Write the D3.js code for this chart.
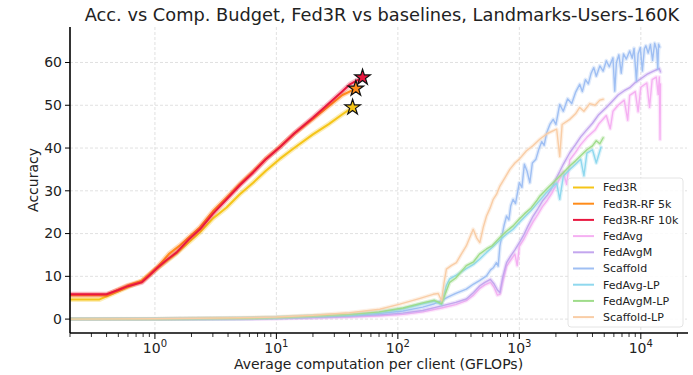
<!DOCTYPE html>
<html>
<head>
<meta charset="utf-8">
<script src="https://cdn.jsdelivr.net/npm/d3@7"></script>
<style>
  html, body { margin: 0; padding: 0; background: #fff; }
  svg { display: block; font-family: "DejaVu Sans", sans-serif; }
</style>
</head>
<body>
<svg id="chart" width="693" height="375"></svg>
<script>
// Accuracy vs average computation per client (GFLOPs), pairs of [gflops, accuracy]
const fed3r = [[0.2,4.6],[0.35,4.6],[0.5,6.5],[0.6,7.5],[0.78,8.9],[1.06,12.0],[1.51,15.4],[2.35,20.3],[3.0,23.5],[3.89,26.1],[5.0,29.2],[6.44,31.9],[8.2,34.7],[10.6,37.4],[14,40.0],[20,43.2],[27,45.6],[35,47.9],[42.4,49.5]];
const fed3rRF5k = [[0.2,5.6],[0.4,5.6],[0.5,6.9],[0.6,7.9],[0.78,8.9],[1.06,12.3],[1.3,15.2],[1.6,17.2],[2.35,21.5],[3.0,25.2],[3.89,28.4],[5,31.6],[6.44,34.5],[8.2,37.5],[10.6,40.2],[14,43.3],[20,46.8],[27,49.8],[35,52.4],[45.1,53.9]];
const fed3rRF10k = [[0.2,5.8],[0.4,5.8],[0.5,6.8],[0.6,7.7],[0.78,8.6],[0.9,10.2],[1.06,12.1],[1.25,13.8],[1.51,15.6],[1.9,18.6],[2.35,21.0],[3.0,24.6],[3.89,28.0],[5.0,31.3],[6.44,34.3],[8.2,37.4],[10.6,40.1],[14,43.4],[20,47.1],[27,50.4],[35,53.3],[40.3,54.9],[51.2,56.5]];
const fedAvg = [[0.2,0],[1,0.02],[5,0.08],[10,0.15],[20,0.3],[40,0.5],[70,0.8],[110,1.1],[160,1.7],[229,2.6],[300,3.4],[366,4.3],[420,5.6],[473,7.2],[520,8.0],[578,8.6],[620,7.4],[660,5.6],[692,5.8],[730,8.8],[785,12.4],[850,13.8],[920,15.2],[960,12.5],[1000,17.0],[1080,18.5],[1180,20.6],[1300,22.8],[1420,24.5],[1550,26.3],[1700,27.8],[1850,29.4],[2000,31.2],[2150,32.8],[2300,34.5],[2450,31.5],[2600,37.2],[2900,39.0],[3200,40.8],[3600,42.5],[4200,44.2],[4500,45.6],[5200,47.6],[5600,44.5],[5900,48.6],[6500,50.0],[7300,51.2],[7800,46.5],[8100,52.3],[9000,53.2],[9500,48.5],[10000,54.2],[11200,55.2],[11800,49.5],[12400,56.0],[13400,56.6],[13900,52.5],[14200,56.6],[14400,42.0],[14500,55.0]];
const fedAvgM = [[0.2,0],[1,0.03],[5,0.1],[10,0.2],[20,0.4],[40,0.7],[70,1.0],[110,1.4],[160,2.0],[229,3.1],[300,3.9],[366,4.7],[420,6.2],[473,7.8],[520,8.6],[578,9.3],[620,8.2],[660,6.8],[692,6.2],[730,9.8],[785,13.2],[850,14.8],[920,16.2],[1000,17.9],[1080,19.5],[1180,21.8],[1300,24.1],[1420,25.8],[1550,27.6],[1700,29.0],[1850,30.6],[2000,32.8],[2150,34.5],[2300,36.2],[2600,38.9],[2900,40.8],[3200,42.6],[3600,44.3],[4000,45.8],[4500,47.8],[5200,49.5],[5800,50.9],[6500,52.4],[7300,53.4],[8100,54.1],[9000,55.3],[10000,56.2],[11200,57.2],[12700,58.0],[14200,58.6],[14500,57.8]];
const scaffold = [[0.2,0],[1,0.05],[5,0.15],[10,0.3],[20,0.6],[40,0.9],[70,1.3],[110,1.9],[160,2.8],[200,3.6],[229,4.3],[260,5.2],[300,6.0],[366,7.0],[420,8.2],[470,9.0],[537,10.1],[580,11.5],[610,12.0],[648,13.2],[670,12.4],[692,17.1],[720,19.5],[750,22.0],[785,24.1],[820,23.2],[850,26.5],[889,28.0],[930,27.0],[1000,31.9],[1050,30.8],[1100,36.2],[1160,34.5],[1220,31.9],[1280,36.5],[1370,37.4],[1450,39.8],[1530,41.5],[1600,40.6],[1680,43.6],[1790,45.6],[1900,46.7],[2000,45.5],[2150,50.2],[2300,48.6],[2500,51.5],[2700,50.4],[2900,53.0],[3140,54.9],[3300,53.2],[3500,56.0],[3700,55.0],[3900,57.5],[4100,58.8],[4300,56.8],[4600,59.2],[4900,58.0],[5200,60.4],[5500,59.0],[5900,61.1],[6100,53.3],[6300,60.0],[6600,61.8],[6900,57.5],[7200,62.0],[7600,60.8],[8100,62.7],[8500,61.0],[8800,63.3],[9200,55.7],[9500,62.0],[9900,63.5],[10300,58.0],[10700,63.2],[11000,63.9],[11500,62.2],[12000,64.2],[12500,60.5],[13000,64.5],[13500,63.0],[13800,58.5],[14000,64.3],[14300,63.6]];
const fedAvgLP = [[0.2,0],[1,0.05],[5,0.2],[10,0.35],[20,0.7],[40,1.0],[70,1.6],[110,2.4],[160,3.6],[200,4.2],[229,3.4],[250,7.8],[267,9.4],[300,10.2],[366,11.8],[420,12.8],[470,14.0],[537,15.6],[600,16.8],[692,18.5],[780,19.8],[889,21.0],[1000,22.6],[1100,23.8],[1250,25.4],[1400,27.0],[1650,29.4],[1850,30.8],[2030,31.8],[2150,28.0],[2300,33.4],[2600,35.0],[2900,36.2],[3200,37.4],[3400,33.5],[3600,38.8],[4000,39.6],[4300,36.5],[4700,40.2]];
const fedAvgMLP = [[0.2,0],[1,0.05],[5,0.2],[10,0.35],[20,0.7],[40,1.1],[70,1.7],[110,2.6],[160,3.8],[200,4.4],[229,3.6],[250,6.5],[267,8.6],[300,9.6],[366,12.5],[420,13.4],[470,15.2],[537,16.4],[600,17.2],[692,19.1],[780,20.5],[889,21.8],[1000,23.4],[1100,24.6],[1250,26.0],[1400,27.8],[1480,28.8],[1650,30.2],[1850,31.6],[2030,32.7],[2300,34.2],[2600,35.8],[2900,37.0],[3200,38.2],[3600,39.6],[4000,40.5],[4300,41.7],[4600,41.0],[4900,42.4]];
const scaffoldLP = [[0.2,0],[1,0.08],[5,0.3],[10,0.5],[20,0.9],[40,1.5],[71,2.3],[104,3.5],[150,4.8],[195,5.8],[215,6.0],[229,4.3],[240,8.5],[251,11.7],[275,12.5],[303,13.2],[330,15.0],[366,17.1],[417,21.0],[445,19.0],[473,17.9],[505,21.5],[537,24.1],[575,26.0],[610,28.0],[650,29.2],[692,31.1],[760,33.0],[835,35.0],[920,36.5],[1000,37.4],[1140,39.3],[1300,40.6],[1480,42.1],[1700,43.4],[2030,44.4],[2150,38.0],[2250,45.5],[2600,46.7],[2900,48.0],[3140,49.5],[3400,48.6],[3800,50.4],[4200,50.0],[4600,51.2],[4900,51.4]];

const seriesNames = ["Fed3R","Fed3R-RF 5k","Fed3R-RF 10k","FedAvg","FedAvgM","Scaffold","FedAvg-LP","FedAvgM-LP","Scaffold-LP"];
const seriesData = [fed3r, fed3rRF5k, fed3rRF10k, fedAvg, fedAvgM, scaffold, fedAvgLP, fedAvgMLP, scaffoldLP];
const seriesColors = ["#f5c518","#ff8c1a","#e8173f","#f5b0f2","#c3a6ee","#9fbff3","#8fd8ee","#9fdc8a","#f9cda6"];
const yTicks = [0,10,20,30,40,50,60];
const xMajorTicks = [1,10,100,1000,10000];
const xTickExps = ["0","1","2","3","4"];
const titleText = "Acc. vs Comp. Budget, Fed3R vs baselines, Landmarks-Users-160K";

const svg = d3.select("#chart");
const pLeft = 70, pRight = 687, pTop = 27, pBottom = 333;

const x = d3.scaleLog().domain([0.2, 24000]).range([pLeft, pRight]);
const y = d3.scaleLinear().domain([-3.25, 68.3]).range([pBottom, pTop]);

// grid
const grid = svg.append("g");
grid.selectAll(".gx").data(xMajorTicks).enter().append("line")
  .attr("x1", d => x(d)).attr("x2", d => x(d)).attr("y1", pTop).attr("y2", pBottom)
  .attr("stroke", "#d9d9d9").attr("stroke-width", 0.8).attr("stroke-dasharray", "3,2");
grid.selectAll(".gy").data(yTicks).enter().append("line")
  .attr("x1", pLeft).attr("x2", pRight).attr("y1", d => y(d)).attr("y2", d => y(d))
  .attr("stroke", "#d9d9d9").attr("stroke-width", 0.8).attr("stroke-dasharray", "3,2");

const line = d3.line().x(d => x(d[0])).y(d => y(d[1]));
svg.append("clipPath").attr("id", "clip").append("rect")
  .attr("x", pLeft).attr("y", pTop - 10).attr("width", pRight - pLeft).attr("height", pBottom - pTop + 10);
const plot = svg.append("g").attr("clip-path", "url(#clip)");

seriesData.forEach((data, i) => {
  const isFed3R = i < 3;
  // spread band drawn as a wide translucent stroke
  plot.append("path").datum(data).attr("d", line)
    .attr("fill", "none").attr("stroke", seriesColors[i])
    .attr("stroke-width", isFed3R ? 5 : 4).attr("stroke-opacity", 0.3)
    .attr("stroke-linejoin", "round").attr("stroke-linecap", "round");
  plot.append("path").datum(data).attr("d", line)
    .attr("fill", "none").attr("stroke", seriesColors[i])
    .attr("stroke-width", isFed3R ? 2 : 1.4)
    .attr("stroke-linejoin", "round").attr("stroke-linecap", "round");
});

// star markers at the end of the Fed3R curves
const star = d3.symbol().type(d3.symbolStar).size(75);
[0,1,2].forEach(i => {
  const last = seriesData[i][seriesData[i].length - 1];
  svg.append("path").attr("d", star)
    .attr("transform", `translate(${x(last[0])},${y(last[1])})`)
    .attr("fill", seriesColors[i]).attr("stroke", "#111").attr("stroke-width", 1.2);
});

// axes spines
svg.append("line").attr("x1", pLeft).attr("x2", pLeft).attr("y1", pTop).attr("y2", pBottom)
  .attr("stroke", "#000").attr("stroke-width", 1.6);
svg.append("line").attr("x1", pLeft).attr("x2", pRight + 1).attr("y1", pBottom).attr("y2", pBottom)
  .attr("stroke", "#000").attr("stroke-width", 1.6);

// y ticks
const yg = svg.append("g");
yTicks.forEach(t => {
  yg.append("line").attr("x1", pLeft - 5).attr("x2", pLeft).attr("y1", y(t)).attr("y2", y(t))
    .attr("stroke", "#000").attr("stroke-width", 1);
  yg.append("text").attr("x", pLeft - 8).attr("y", y(t)).attr("dy", "0.35em")
    .attr("text-anchor", "end").attr("font-size", 14).attr("fill", "#222").text(t);
});

// x ticks: major and minor
const xMinor = [];
for (let e = -1; e <= 4; e++) for (let m = 2; m <= 9; m++) {
  const v = m * Math.pow(10, e);
  if (v >= 0.2 && v <= 24000) xMinor.push(v);
}
const xg = svg.append("g");
xMinor.forEach(v => {
  xg.append("line").attr("x1", x(v)).attr("x2", x(v)).attr("y1", pBottom).attr("y2", pBottom + 4)
    .attr("stroke", "#000").attr("stroke-width", 0.8);
});
xMajorTicks.forEach((v, i) => {
  xg.append("line").attr("x1", x(v)).attr("x2", x(v)).attr("y1", pBottom).attr("y2", pBottom + 6)
    .attr("stroke", "#000").attr("stroke-width", 1);
  const t = xg.append("text").attr("x", x(v)).attr("y", pBottom + 20)
    .attr("text-anchor", "middle").attr("font-size", 14).attr("fill", "#222");
  t.append("tspan").text("10");
  t.append("tspan").attr("dy", -6).attr("font-size", 10).text(xTickExps[i]);
});

// axis labels
svg.append("text").attr("x", (pLeft + pRight) / 2).attr("y", 369)
  .attr("text-anchor", "middle").attr("font-size", 14).attr("fill", "#222")
  .text("Average computation per client (GFLOPs)");
svg.append("text").attr("transform", `translate(38,${(pTop + pBottom) / 2}) rotate(-90)`)
  .attr("text-anchor", "middle").attr("font-size", 14).attr("fill", "#222").text("Accuracy");

// title
svg.append("text").attr("x", 382).attr("y", 21)
  .attr("text-anchor", "middle").attr("font-size", 17.8).attr("fill", "#222").text(titleText);

// legend
const lg = svg.append("g").attr("transform", "translate(568,178)");
lg.append("rect").attr("width", 115).attr("height", 149).attr("rx", 3)
  .attr("fill", "#fff").attr("fill-opacity", 0.85).attr("stroke", "#ddd").attr("stroke-width", 0.8);
seriesNames.forEach((name, i) => {
  const cy = 9.5 + i * 16.2;
  lg.append("line").attr("x1", 5).attr("x2", 26).attr("y1", cy).attr("y2", cy)
    .attr("stroke", seriesColors[i]).attr("stroke-width", 2);
  lg.append("text").attr("x", 35).attr("y", cy).attr("dy", "0.35em")
    .attr("font-size", 11).attr("fill", "#222").text(name);
});
</script>
</body>
</html>
